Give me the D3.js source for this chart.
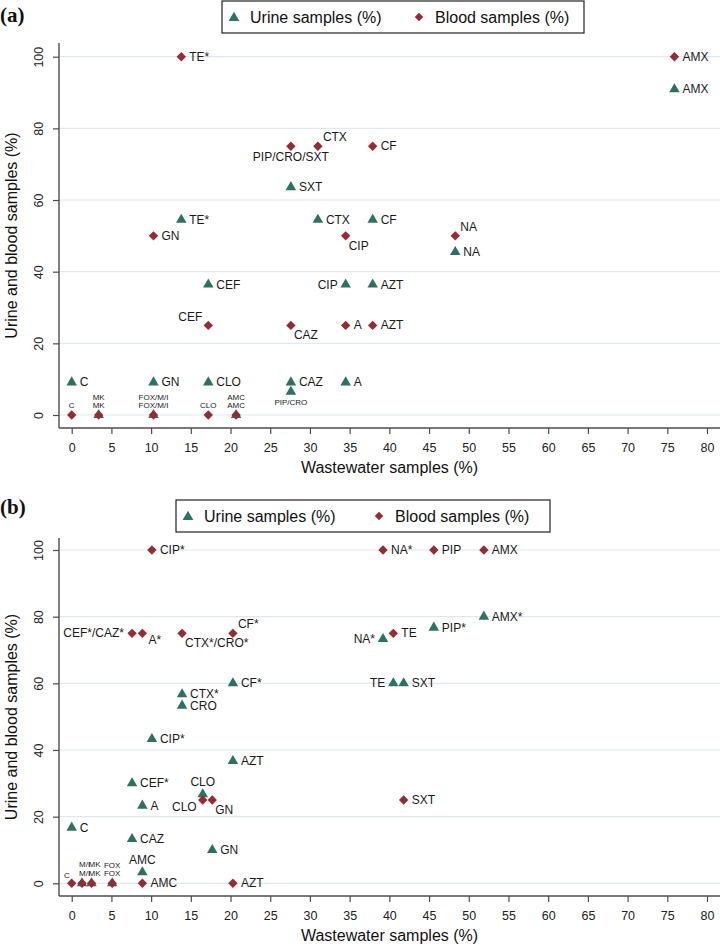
<!DOCTYPE html>
<html>
<head>
<meta charset="utf-8">
<script src="https://cdn.jsdelivr.net/npm/d3@7"></script>
<style>
  body { margin: 0; background: #fff; }
  svg { display: block; font-family: "Liberation Sans", Arial, sans-serif; }
</style>
</head>
<body>
<div class="chart"></div>
<script>
// tick values shared by both panels
var xTicks = [0, 5, 10, 15, 20, 25, 30, 35, 40, 45, 50, 55, 60, 65, 70, 75, 80];
var yTicks = [0, 20, 40, 60, 80, 100];

// panel (a) - urine
var aUrineLab = ["C", "GN", "CLO", "CAZ", "PIP/CRO", "A", "CEF", "CIP", "AZT", "TE*", "CTX", "CF", "SXT", "NA", "AMX", "MK", "FOX/M/I", "AMC"];
var aUrineX = [0, 10.3, 17.2, 27.6, 27.6, 34.5, 17.2, 34.5, 37.9, 13.8, 31.0, 37.9, 27.6, 48.3, 75.9, 3.4, 10.3, 20.7];
var aUrineY = [9.1, 9.1, 9.1, 9.1, 6.5, 9.1, 36.4, 36.4, 36.4, 54.5, 54.5, 54.5, 63.6, 45.5, 90.9, 0, 0, 0];
// panel (a) - blood
var aBloodLab = ["TE*", "AMX", "PIP/CRO/SXT", "CTX", "CF", "GN", "CIP", "NA", "CEF", "CAZ", "A", "AZT", "C", "MK", "FOX/M/I", "CLO", "AMC"];
var aBloodX = [13.8, 75.9, 27.6, 31.0, 37.9, 10.3, 34.5, 48.3, 17.2, 27.6, 34.5, 37.9, 0, 3.4, 10.3, 17.2, 20.7];
var aBloodY = [100, 100, 75, 75, 75, 50, 50, 50, 25, 25, 25, 25, 0, 0, 0, 0, 0];

// panel (b) - urine
var bUrineLab = ["C", "CAZ", "A", "CEF*", "AMC", "CIP*", "CTX*", "CRO", "CF*", "AZT", "CLO", "GN", "TE", "SXT", "NA*", "PIP*", "AMX*", "M/I", "MK", "FOX"];
var bUrineX = [0, 7.6, 8.9, 7.6, 8.9, 10.1, 13.9, 13.9, 20.3, 20.3, 16.5, 17.7, 40.5, 41.8, 39.2, 45.6, 51.9, 1.3, 2.5, 5.1];
var bUrineY = [16.7, 13.3, 23.3, 30, 3.3, 43.3, 56.7, 53.3, 60, 36.7, 26.7, 10, 60, 60, 73.3, 76.7, 80, 0, 0, 0];
// panel (b) - blood
var bBloodLab = ["CIP*", "NA*", "PIP", "AMX", "CEF*/CAZ*", "A*", "CTX*/CRO*", "CF*", "TE", "SXT", "CLO", "GN", "C", "M/I", "MK", "FOX", "AMC", "AZT"];
var bBloodX = [10.1, 39.2, 45.6, 51.9, 7.6, 8.9, 13.9, 20.3, 40.5, 41.8, 16.5, 17.7, 0, 1.3, 2.5, 5.1, 8.9, 20.3];
var bBloodY = [100, 100, 100, 100, 75, 75, 75, 75, 75, 25, 25, 25, 0, 0, 0, 0, 0, 0];

// label clock positions (s/u = small font, lower/upper row)
var aUrinePos = ["3", "3", "3", "3", "s6", "3", "3", "9", "3", "3", "3", "3", "3", "3", "3", "u12", "u12", "u12"];
var aBloodPos = ["3", "3", "6", "1", "3", "3", "5", "1", "11", "5", "3", "3", "s12", "s12", "s12", "s12", "s12"];
var bUrinePos = ["3", "3", "3", "3", "12", "3", "3", "3", "3", "3", "12", "3", "9", "3", "9", "3", "3", "u1", "u1", "u12"];
var bBloodPos = ["3", "3", "3", "3", "9", "4", "5", "1", "3", "3", "7", "5", "s11", "s1", "s1", "s12", "3", "3"];

var urineColor = "#2b7262";
var bloodColor = "#962b31";
var gridColor = "#dde9ee";
var axisColor = "#4d4d4d";

var svg = d3.select(".chart").append("svg")
    .attr("width", 720)
    .attr("height", 950);

// label offsets: [anchor, dx, dy]
function labelOffset(p) {
    var table = {
        "3": ["start", 8, 0], "9": ["end", -8, 0],
        "12": ["middle", 0, -12], "6": ["middle", 0, 11],
        "1": ["start", 5, -9], "4": ["start", 6, 7], "5": ["start", 3, 10],
        "7": ["end", -6, 7], "11": ["end", -6, -8],
        "s12": ["middle", 0, -10], "s6": ["middle", 0, 11],
        "s1": ["start", -3, -10], "s11": ["end", -2, -8],
        "u12": ["middle", 0, -18], "u1": ["start", -3, -19]
    };
    return table[p];
}

function drawPanel(p) {
    var g = svg.append("g");

    var x = d3.scaleLinear().domain([0, 80]).range([p.x0, p.x80]);
    var y = d3.scaleLinear().domain([0, 100]).range([p.y0, p.y100]);

    // panel letter
    g.append("text")
        .attr("x", 0).attr("y", p.letterY)
        .attr("font-family", "Liberation Serif, Times New Roman, serif")
        .attr("font-weight", "bold")
        .attr("font-size", 21)
        .attr("fill", "#111")
        .text(p.letter);

    // legend
    var lg = g.append("g");
    lg.append("rect")
        .attr("x", p.legX).attr("y", p.legY)
        .attr("width", p.legW).attr("height", 32)
        .attr("fill", "#fff").attr("stroke", "#222").attr("stroke-width", 1.2);
    lg.append("path")
        .attr("d", d3.symbol(d3.symbolTriangle, 50)())
        .attr("transform", `translate(${p.legX + 12},${p.legY + 17})`)
        .attr("fill", urineColor);
    lg.append("text")
        .attr("x", p.legX + 28).attr("y", p.legY + 22)
        .attr("font-size", 16).attr("fill", "#111")
        .text("Urine samples (%)");
    lg.append("path")
        .attr("d", d3.symbol(d3.symbolSquare, 36)())
        .attr("transform", `translate(${p.legX + p.legMid},${p.legY + 16}) rotate(45)`)
        .attr("fill", bloodColor);
    lg.append("text")
        .attr("x", p.legX + p.legMid + 16).attr("y", p.legY + 22)
        .attr("font-size", 16).attr("fill", "#111")
        .text("Blood samples (%)");

    // gridlines
    g.selectAll(".grid")
        .data(yTicks)
        .enter()
        .append("line")
        .attr("x1", p.left).attr("x2", 720)
        .attr("y1", d => y(d)).attr("y2", d => y(d))
        .attr("stroke", gridColor).attr("stroke-width", 1.2);

    // axes
    var xAxis = d3.axisBottom(x).tickValues(xTicks).tickSize(6).tickSizeOuter(0);
    var yAxis = d3.axisLeft(y).tickValues(yTicks).tickSize(6).tickSizeOuter(0);

    var gx = g.append("g")
        .attr("transform", `translate(0, ${p.bottom})`)
        .call(xAxis);
    gx.select(".domain").remove();
    gx.selectAll("line").attr("stroke", axisColor).attr("stroke-width", 1.2);
    gx.selectAll("text")
        .attr("font-size", 12.5).attr("fill", "#222")
        .attr("font-family", "Liberation Sans, Arial, sans-serif")
        .attr("dy", "1.2em");

    var gy = g.append("g")
        .attr("transform", `translate(${p.left}, 0)`)
        .call(yAxis);
    gy.select(".domain").remove();
    gy.selectAll("line").attr("stroke", axisColor).attr("stroke-width", 1.2);
    // tick groups already sit at y(d), so only shift and rotate here
    gy.selectAll("text")
        .attr("font-size", 12.5).attr("fill", "#222")
        .attr("font-family", "Liberation Sans, Arial, sans-serif")
        .attr("x", null).attr("dy", null)
        .attr("text-anchor", "middle")
        .attr("transform", "translate(-16, 0) rotate(-90)")
        .attr("y", 0);

    // axis lines
    g.append("line")
        .attr("x1", p.left).attr("x2", 720)
        .attr("y1", p.bottom).attr("y2", p.bottom)
        .attr("stroke", axisColor).attr("stroke-width", 1.4);
    g.append("line")
        .attr("x1", p.left).attr("x2", p.left)
        .attr("y1", p.top).attr("y2", p.bottom)
        .attr("stroke", axisColor).attr("stroke-width", 1.4);

    // axis titles
    g.append("text")
        .attr("x", (p.left + 720) / 2).attr("y", p.bottom + 45)
        .attr("text-anchor", "middle")
        .attr("font-size", 16).attr("fill", "#111")
        .text("Wastewater samples (%)");
    g.append("text")
        .attr("transform", `translate(17, ${(p.top + p.bottom) / 2}) rotate(-90)`)
        .attr("text-anchor", "middle")
        .attr("font-size", 16).attr("fill", "#111")
        .text("Urine and blood samples (%)");

    // points
    var urine = p.uLab.map((d, i) => ({ lab: d, x: p.uX[i], y: p.uY[i], pos: p.uPos[i] }));
    var blood = p.bLab.map((d, i) => ({ lab: d, x: p.bX[i], y: p.bY[i], pos: p.bPos[i] }));

    g.selectAll(".tri")
        .data(urine)
        .enter()
        .append("path")
        .attr("d", d3.symbol(d3.symbolTriangle, 48)())
        .attr("transform", d => `translate(${x(d.x)},${y(d.y)})`)
        .attr("fill", urineColor);

    g.selectAll(".dia")
        .data(blood)
        .enter()
        .append("path")
        .attr("d", d3.symbol(d3.symbolSquare, 44)())
        .attr("transform", d => `translate(${x(d.x)},${y(d.y)}) rotate(45)`)
        .attr("fill", bloodColor);

    // marker labels
    var all = urine.concat(blood);
    g.selectAll(".mlab")
        .data(all)
        .enter()
        .append("text")
        .each(function (d) {
            var o = labelOffset(d.pos);
            var small = d.pos[0] === "s" || d.pos[0] === "u";
            d3.select(this)
                .attr("x", x(d.x) + o[1])
                .attr("y", y(d.y) + o[2])
                .attr("text-anchor", o[0])
                .attr("dominant-baseline", "central")
                .attr("font-size", small ? 8 : 12)
                .attr("fill", "#1a1a1a")
                .text(d.lab);
        });
}

drawPanel({
    letter: "(a)", letterY: 22,
    legX: 222, legY: 1, legW: 362, legMid: 197,
    left: 59, top: 43, bottom: 428,
    x0: 71.7, x80: 707, y0: 415, y100: 56.7,
    uLab: aUrineLab, uX: aUrineX, uY: aUrineY, uPos: aUrinePos,
    bLab: aBloodLab, bX: aBloodX, bY: aBloodY, bPos: aBloodPos
});

drawPanel({
    letter: "(b)", letterY: 514,
    legX: 176, legY: 500, legW: 374, legMid: 203,
    left: 59, top: 538, bottom: 896,
    x0: 71.7, x80: 707, y0: 883.3, y100: 550,
    uLab: bUrineLab, uX: bUrineX, uY: bUrineY, uPos: bUrinePos,
    bLab: bBloodLab, bX: bBloodX, bY: bBloodY, bPos: bBloodPos
});
</script>
</body>
</html>
